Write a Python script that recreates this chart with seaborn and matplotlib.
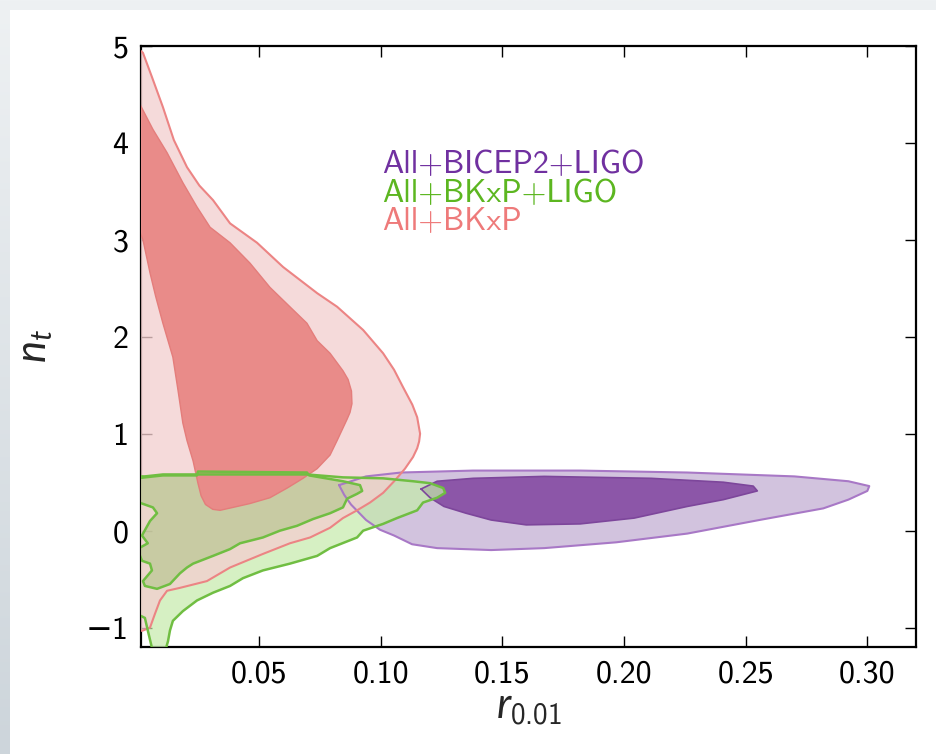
import numpy as np
import matplotlib
matplotlib.use("Agg")
import matplotlib.pyplot as plt
import seaborn as sns

# ---------------- data ----------------
series_labels = ["All+BICEP2+LIGO", "All+BKxP+LIGO", "All+BKxP"]
x_ticks = [0.05, 0.10, 0.15, 0.20, 0.25, 0.30]
x_tick_labels = ["0.05", "0.10", "0.15", "0.20", "0.25", "0.30"]
y_ticks = [-1, 0, 1, 2, 3, 4, 5]

# All+BKxP (red) 95% contour
red_outer_r = [0.0, 0.0023, 0.0060, 0.0105, 0.0150, 0.0204, 0.0255, 0.0311, 0.0381,
               0.0492, 0.0599, 0.0739, 0.0821, 0.0928, 0.1010, 0.1055, 0.1092, 0.1130,
               0.1150, 0.1162, 0.1158, 0.1150, 0.1133, 0.1100, 0.1059, 0.1010, 0.0956,
               0.0903, 0.0845, 0.0792, 0.0710, 0.0627, 0.0516, 0.0381, 0.0286, 0.0175,
               0.0122, 0.0093, 0.0072, 0.0052, 0.0023, 0.0]
red_outer_nt = [4.98, 4.93, 4.68, 4.37, 4.03, 3.75, 3.56, 3.41, 3.17,
                2.97, 2.72, 2.45, 2.31, 2.07, 1.83, 1.66, 1.48, 1.30,
                1.17, 1.00, 0.92, 0.85, 0.76, 0.64, 0.52, 0.39, 0.29,
                0.21, 0.13, 0.03, -0.07, -0.13, -0.24, -0.38, -0.52, -0.59,
                -0.62, -0.72, -0.86, -1.00, -1.03, -1.04]
# All+BKxP (red) 68% contour
red_inner_r = [0.0, 0.0064, 0.0122, 0.0187, 0.0245, 0.0299, 0.0381, 0.0463, 0.0545,
               0.0627, 0.0697, 0.0739, 0.0792, 0.0845, 0.0866, 0.0880, 0.0882, 0.0874,
               0.0862, 0.0821, 0.0792, 0.0739, 0.0681, 0.0616, 0.0545, 0.0463, 0.0393,
               0.0340, 0.0310, 0.0280, 0.0262, 0.0249, 0.0229, 0.0204, 0.0187, 0.0167,
               0.0146, 0.0105, 0.0075, 0.0052, 0.0023, 0.0]
red_inner_nt = [4.45, 4.14, 3.90, 3.59, 3.34, 3.13, 2.97, 2.76, 2.51,
                2.31, 2.14, 1.96, 1.83, 1.65, 1.56, 1.44, 1.31, 1.22,
                1.15, 0.93, 0.78, 0.64, 0.54, 0.44, 0.34, 0.28, 0.24,
                0.21, 0.22, 0.27, 0.36, 0.49, 0.72, 0.93, 1.11, 1.45,
                1.79, 2.14, 2.42, 2.66, 3.00, 3.15]

# All+BKxP+LIGO (green) 95% contour
green_outer_r = [0.0, 0.0031, 0.0105, 0.0697, 0.0845, 0.1010, 0.1133, 0.1203, 0.1257,
                 0.1265, 0.1232, 0.1174, 0.1150, 0.1067, 0.1010, 0.0928, 0.0903, 0.0792,
                 0.0739, 0.0627, 0.0516, 0.0434, 0.0381, 0.0311, 0.0245, 0.0187, 0.0146,
                 0.0134, 0.0126, 0.0118, 0.0116, 0.0058, 0.0060, 0.0043, 0.0031, 0.0015,
                 0.0]
green_outer_nt = [0.56, 0.56, 0.58, 0.58, 0.55, 0.54, 0.51, 0.49, 0.44,
                  0.39, 0.34, 0.29, 0.21, 0.13, 0.07, 0.00, -0.07, -0.18,
                  -0.26, -0.34, -0.41, -0.49, -0.57, -0.64, -0.72, -0.83, -0.93,
                  -1.03, -1.14, -1.21, -1.30, -1.30, -1.21, -1.03, -0.90, -0.88,
                  -0.87]
# All+BKxP+LIGO (green) 68% contour
green_inner_r = [0.0, 0.0031, 0.0105, 0.0245, 0.0249, 0.0697, 0.0706, 0.0845, 0.0915,
                 0.0924, 0.0903, 0.0862, 0.0845, 0.0792, 0.0722, 0.0656, 0.0586, 0.0516,
                 0.0422, 0.0381, 0.0311, 0.0229, 0.0204, 0.0175, 0.0134, 0.0081, 0.0031,
                 0.0023, 0.0060, 0.0052, 0.0019, 0.0, 0.0043, 0.0019, 0.0052, 0.0081,
                 0.0064, 0.0019, 0.0]
green_inner_nt = [0.54, 0.55, 0.57, 0.57, 0.61, 0.60, 0.57, 0.51, 0.47,
                  0.41, 0.38, 0.33, 0.24, 0.18, 0.12, 0.05, 0.00, -0.07,
                  -0.13, -0.19, -0.26, -0.34, -0.38, -0.44, -0.55, -0.60, -0.57,
                  -0.52, -0.41, -0.34, -0.31, -0.19, -0.13, -0.05, 0.10, 0.18,
                  0.24, 0.28, 0.30]

# All+BICEP2+LIGO (purple) 95% contour
purple_outer_r = [0.0829, 0.0850, 0.0878, 0.0940, 0.0997, 0.1055, 0.1129, 0.1232, 0.1454,
                  0.1672, 0.1968, 0.2260, 0.2556, 0.2819, 0.2922, 0.3000, 0.3008, 0.2922,
                  0.2700, 0.2260, 0.1820, 0.1380, 0.1084, 0.0940, 0.0829]
purple_outer_nt = [0.47, 0.37, 0.27, 0.11, 0.01, -0.05, -0.14, -0.18, -0.20,
                   -0.18, -0.12, -0.03, 0.11, 0.23, 0.32, 0.41, 0.46, 0.51,
                   0.56, 0.60, 0.62, 0.62, 0.60, 0.56, 0.47]
# All+BICEP2+LIGO (purple) 68% contour
purple_inner_r = [0.1166, 0.1203, 0.1260, 0.1351, 0.1454, 0.1598, 0.1820, 0.2042, 0.2260,
                  0.2408, 0.2548, 0.2531, 0.2408, 0.2112, 0.1672, 0.1380, 0.1232, 0.1166]
purple_inner_nt = [0.43, 0.34, 0.25, 0.18, 0.11, 0.06, 0.07, 0.13, 0.25,
                   0.32, 0.41, 0.46, 0.50, 0.54, 0.56, 0.54, 0.51, 0.43]

# ---------------- styling ----------------
sns.set_style("ticks")
plt.rcParams.update({
    "font.family": ["cmss10", "DejaVu Sans"],
    "mathtext.fontset": "custom",
    "mathtext.rm": "cmss10",
    "mathtext.it": "Lato:italic",
    "mathtext.fallback": "cm",
    "axes.unicode_minus": True,
    "axes.formatter.use_mathtext": False,
})

fig = plt.figure(figsize=(9.37, 7.54), dpi=100)

# slide-like background: grey gradient border at top/left, white card
bg = fig.add_axes([0, 0, 1, 1], zorder=-10)
grad = np.linspace(0, 1, 256)[:, None]
top_c = np.array([238, 241, 243]) / 255
bot_c = np.array([205, 213, 219]) / 255
img = top_c[None, None, :] * (1 - grad[:, :, None]) + bot_c[None, None, :] * grad[:, :, None]
bg.imshow(img, aspect="auto", extent=[0, 1, 0, 1], origin="upper")
bg.add_patch(plt.Rectangle((10 / 937, 0), 1, 1 - 10 / 754, color="white", lw=0))
bg.set_xlim(0, 1)
bg.set_ylim(0, 1)
bg.axis("off")

ax = fig.add_axes([141 / 937, 1 - 647 / 754, 775 / 937, 601 / 754])
ax.set_facecolor("white")

def rgb(r, g, b):
    return (r / 255, g / 255, b / 255)

# fills
ax.fill(purple_outer_r, purple_outer_nt, color=rgb(210, 195, 222), lw=0, zorder=1)
ax.fill(purple_inner_r, purple_inner_nt, color=rgb(140, 86, 168), lw=0, zorder=2)
ax.fill(green_outer_r, green_outer_nt, color=rgb(197, 235, 170), alpha=0.7, lw=0, zorder=3)
ax.fill(red_outer_r, red_outer_nt, color=rgb(243, 207, 207), alpha=0.77, lw=0, zorder=4)
ax.fill(green_inner_r, green_inner_nt, color=rgb(110, 175, 60), alpha=0.28, lw=0, zorder=5)
ax.fill(red_inner_r, red_inner_nt, color=rgb(233, 139, 137), lw=0, zorder=6)

# contour edges through seaborn
edge_specs = [
    (purple_outer_r, purple_outer_nt, rgb(168, 120, 198), 1.5),
    (purple_inner_r, purple_inner_nt, rgb(125, 70, 155), 1.2),
    (red_outer_r, red_outer_nt, rgb(236, 132, 132), 1.5),
    (red_inner_r, red_inner_nt, rgb(228, 125, 123), 1.0),
    (green_outer_r, green_outer_nt, rgb(112, 190, 66), 1.8),
    (green_inner_r, green_inner_nt, rgb(112, 190, 66), 1.8),
]
for i, (xs, ys, c, lw) in enumerate(edge_specs):
    sns.lineplot(x=xs, y=ys, sort=False, estimator=None, color=c, lw=lw,
                 ax=ax, zorder=10 + i)

# labels inside the plot
label_colors = [rgb(112, 48, 160), rgb(92, 182, 32), rgb(238, 122, 122)]
label_y = [0.789, 0.741, 0.694]
for txt, c, yy in zip(series_labels, label_colors, label_y):
    ax.text(0.311, yy, txt, color=c, fontsize=23, transform=ax.transAxes,
            ha="left", va="baseline", zorder=20)

ax.set_xlim(0.0015, 0.32)
ax.set_ylim(-1.2, 5.0)
ax.set_xticks(x_ticks)
ax.set_xticklabels(x_tick_labels)
ax.set_yticks(y_ticks)
ax.set_yticklabels(["\u22121" if v < 0 else str(v) for v in y_ticks])
ax.tick_params(direction="in", length=8, width=1, top=True, right=True,
               labelsize=23, pad=9, colors="black")
for s in ax.spines.values():
    s.set_visible(True)
    s.set_linewidth(1.6)
    s.set_color("black")

ax.set_xlabel(r"$r_{0.01}$", fontsize=30, labelpad=2)
ax.set_ylabel(r"$n_t$", fontsize=30, labelpad=22)

fig.savefig("out.png", dpi=100)
